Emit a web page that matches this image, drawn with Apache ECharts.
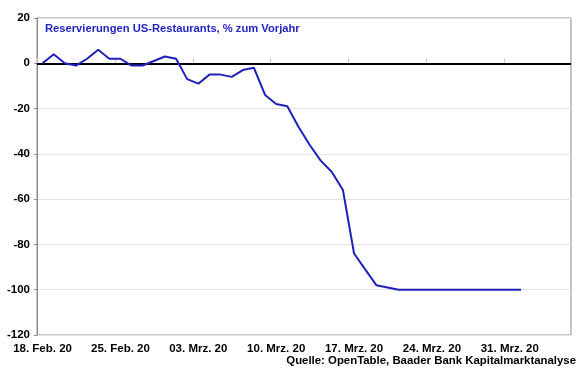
<!DOCTYPE html>
<html>
<head>
<meta charset="utf-8">
<script src="https://cdn.jsdelivr.net/npm/echarts@6/dist/echarts.min.js"></script>
<style>
  html, body { margin: 0; padding: 0; background: #fff; }
  #chart { width: 580px; height: 375px; }
</style>
</head>
<body>
<div id="chart"></div>
<script>
// days 18 Feb 2020 .. 05 Apr 2020
const days = [
  '18. Feb. 20', '19. Feb. 20', '20. Feb. 20', '21. Feb. 20', '22. Feb. 20', '23. Feb. 20', '24. Feb. 20',
  '25. Feb. 20', '26. Feb. 20', '27. Feb. 20', '28. Feb. 20', '29. Feb. 20', '01. Mrz. 20', '02. Mrz. 20',
  '03. Mrz. 20', '04. Mrz. 20', '05. Mrz. 20', '06. Mrz. 20', '07. Mrz. 20', '08. Mrz. 20', '09. Mrz. 20',
  '10. Mrz. 20', '11. Mrz. 20', '12. Mrz. 20', '13. Mrz. 20', '14. Mrz. 20', '15. Mrz. 20', '16. Mrz. 20',
  '17. Mrz. 20', '18. Mrz. 20', '19. Mrz. 20', '20. Mrz. 20', '21. Mrz. 20', '22. Mrz. 20', '23. Mrz. 20',
  '24. Mrz. 20', '25. Mrz. 20', '26. Mrz. 20', '27. Mrz. 20', '28. Mrz. 20', '29. Mrz. 20', '30. Mrz. 20',
  '31. Mrz. 20', '01. Apr. 20', '02. Apr. 20', '03. Apr. 20', '04. Apr. 20', '05. Apr. 20'
];

// OpenTable reservations, % yoy, up to 01 Apr
const reservations = [
  0, 4, 0, -1, 2, 6, 2, 2, -1, -1, 1, 3, 2, -7,
  -9, -5, -5, -6, -3, -2, -14, -18, -19, -28, -36, -43, -48, -56,
  -84, -91, -98, -99, -100, -100, -100, -100, -100, -100, -100, -100, -100, -100,
  -100, -100
];

const yTicks = [20, 0, -20, -40, -60, -80, -100, -120];

const titleText = 'Reservierungen US-Restaurants, % zum Vorjahr';
const sourceText = 'Quelle: OpenTable, Baader Bank Kapitalmarktanalyse';

const chart = echarts.init(document.getElementById('chart'));

const font = 'Liberation Sans, Arial, sans-serif';

chart.setOption({
  backgroundColor: '#fff',
  animation: false,
  graphic: [
    {
      type: 'text',
      left: 45,
      top: 23,
      style: { text: titleText, fill: '#2424c4', font: 'bold 11.2px ' + font }
    },
    {
      type: 'text',
      right: 4,
      top: 355,
      style: { text: sourceText, fill: '#000', font: 'bold 11.4px ' + font }
    }
  ],
  grid: {
    left: 37, right: 9, top: 18, bottom: 40,
    show: true,
    borderColor: '#8c8c8c',
    borderWidth: 1
  },
  xAxis: {
    type: 'category',
    data: days,
    boundaryGap: true,
    axisLine: { show: true, lineStyle: { color: '#8c8c8c', width: 1 } },
    axisTick: { show: true, inside: true, length: 5, interval: 6, lineStyle: { color: '#c8c8c8' } },
    axisLabel: {
      interval: 6,
      color: '#000',
      fontFamily: font,
      fontWeight: 'bold',
      fontSize: 11.5,
      margin: 8
    },
    splitLine: { show: false }
  },
  yAxis: {
    type: 'value',
    min: -120,
    max: 20,
    interval: 20,
    axisLine: { show: true, lineStyle: { color: '#8c8c8c' } },
    axisTick: { show: true, inside: false, length: 3, lineStyle: { color: '#8c8c8c' } },
    axisLabel: {
      color: '#000',
      fontFamily: font,
      fontWeight: 'bold',
      fontSize: 11.5,
      margin: 7
    },
    splitLine: { show: true, lineStyle: { color: '#e2e2e2', width: 1 } }
  },
  series: [
    {
      type: 'line',
      data: reservations,
      symbol: 'none',
      lineStyle: { color: '#2020bc', width: 2 },
      z: 3,
      markLine: {
        silent: true,
        symbol: 'none',
        label: { show: false },
        lineStyle: { color: '#000', width: 2, type: 'solid' },
        data: [{ yAxis: 0 }],
        z: 2
      }
    }
  ]
});
</script>
</body>
</html>
